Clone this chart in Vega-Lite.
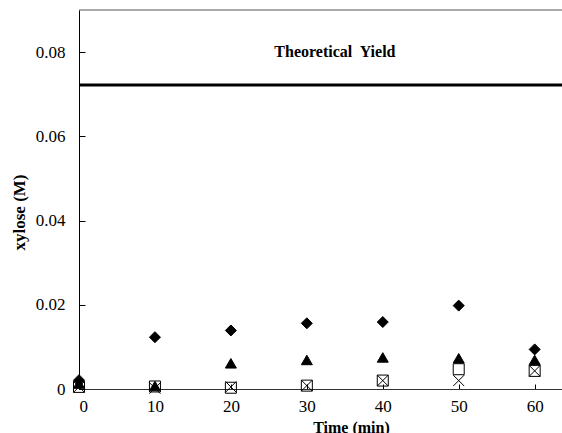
{
  "$schema": "https://vega.github.io/schema/vega-lite/v6.json",
  "width": 483,
  "height": 379,
  "autosize": {"type": "none"},
  "padding": {"left": 79, "top": 10, "right": 0, "bottom": 44},
  "background": "white",
  "config": {"view": {"stroke": null}, "font": "Liberation Serif"},
  "datasets": {
    "points": [
      {"time": 0, "series": "A", "xylose": 0.0021},
      {"time": 10, "series": "A", "xylose": 0.0123},
      {"time": 20, "series": "A", "xylose": 0.0139},
      {"time": 30, "series": "A", "xylose": 0.0156},
      {"time": 40, "series": "A", "xylose": 0.0159},
      {"time": 50, "series": "A", "xylose": 0.0198},
      {"time": 60, "series": "A", "xylose": 0.0094},
      {"time": 0, "series": "B", "xylose": 0.0013},
      {"time": 10, "series": "B", "xylose": 0.0007},
      {"time": 20, "series": "B", "xylose": 0.0061},
      {"time": 30, "series": "B", "xylose": 0.0069},
      {"time": 40, "series": "B", "xylose": 0.0075},
      {"time": 50, "series": "B", "xylose": 0.0073},
      {"time": 60, "series": "B", "xylose": 0.0069},
      {"time": 0, "series": "C", "xylose": 0.0005},
      {"time": 10, "series": "C", "xylose": 0.0006},
      {"time": 20, "series": "C", "xylose": 0.0003},
      {"time": 30, "series": "C", "xylose": 0.0008},
      {"time": 40, "series": "C", "xylose": 0.002},
      {"time": 50, "series": "C", "xylose": 0.0047},
      {"time": 60, "series": "C", "xylose": 0.0043},
      {"time": 0, "series": "D", "xylose": 0.0005},
      {"time": 10, "series": "D", "xylose": 0.0002},
      {"time": 20, "series": "D", "xylose": 0.0005},
      {"time": 30, "series": "D", "xylose": 0.0008},
      {"time": 40, "series": "D", "xylose": 0.002},
      {"time": 50, "series": "D", "xylose": 0.002},
      {"time": 60, "series": "D", "xylose": 0.0043}
    ],
    "theory": [{"y": 0.0722}],
    "frame": [{"y": 0.09}],
    "label": [{"t": 33.7, "y": 0.0801, "text": "Theoretical\u00a0 Yield"}]
  },
  "layer": [
    {
      "data": {"name": "frame"},
      "mark": {"type": "rule", "stroke": "#555555", "strokeWidth": 1},
      "encoding": {
        "y": {"field": "y", "type": "quantitative", "scale": {"domain": [0, 0.09], "nice": false}}
      }
    },
    {
      "data": {"name": "theory"},
      "mark": {"type": "rule", "stroke": "black", "strokeWidth": 3},
      "encoding": {
        "y": {"field": "y", "type": "quantitative"}
      }
    },
    {
      "data": {"name": "label"},
      "mark": {"type": "text", "font": "Liberation Serif", "fontSize": 16, "fontWeight": "bold", "color": "black", "align": "center", "baseline": "middle"},
      "encoding": {
        "x": {"field": "t", "type": "quantitative"},
        "y": {"field": "y", "type": "quantitative"},
        "text": {"field": "text"}
      }
    },
    {
      "data": {"name": "points"},
      "mark": {"type": "point", "stroke": "black", "strokeWidth": 1, "opacity": 1, "size": 121},
      "encoding": {
        "x": {
          "field": "time", "type": "quantitative",
          "scale": {"domain": [0, 63.6], "nice": false, "zero": false},
          "axis": {
            "values": [0, 10, 20, 30, 40, 50, 60],
            "grid": false,
            "tickSize": -5,
            "tickColor": "black",
            "domainColor": "#333333",
            "labelFont": "Liberation Serif",
            "labelFontSize": 17,
            "labelColor": "black",
            "labelPadding": 14,
            "title": "Time (min)",
            "titleFont": "Liberation Serif",
            "titleFontSize": 16,
            "titleFontWeight": "bold",
            "titleColor": "black",
            "titleX": 272,
            "titleY": 38,
            "titleBaseline": "middle"
          }
        },
        "y": {
          "field": "xylose", "type": "quantitative",
          "scale": {"domain": [0, 0.09], "nice": false},
          "axis": {
            "values": [0, 0.02, 0.04, 0.06, 0.08],
            "labelExpr": "datum.value == 0 ? '0' : format(datum.value, '.2f')",
            "grid": false,
            "tickSize": -6,
            "tickColor": "black",
            "domainColor": "black",
            "labelFont": "Liberation Serif",
            "labelFontSize": 17,
            "labelColor": "black",
            "labelPadding": 20,
            "title": "xylose (M)",
            "titleFont": "Liberation Serif",
            "titleFontSize": 17,
            "titleFontWeight": "bold",
            "titleColor": "black",
            "titleX": -60,
            "titleY": 202,
            "titleAngle": -90,
            "titleBaseline": "middle"
          }
        },
        "shape": {
          "field": "series", "type": "nominal",
          "scale": {"domain": ["A", "B", "C", "D"], "range": ["diamond", "triangle-up", "square", "M-1,-1L1,1M1,-1L-1,1"]},
          "legend": null
        },
        "fill": {
          "field": "series", "type": "nominal",
          "scale": {"domain": ["A", "B", "C", "D"], "range": ["black", "black", "transparent", "transparent"]},
          "legend": null
        }
      }
    }
  ]
}
